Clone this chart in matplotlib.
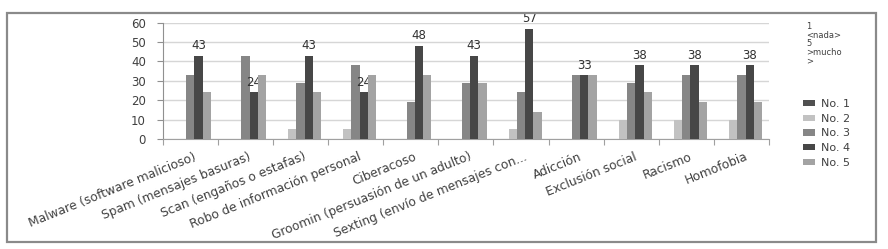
import numpy as np
import matplotlib
matplotlib.use("Agg")
import matplotlib.pyplot as plt
import matplotlib.transforms as mtrans
from matplotlib.patches import Rectangle, Patch

categories = ["Malware (software malicioso)", "Spam (mensajes basuras)",
              "Scan (engaños o estafas)", "Robo de información personal",
              "Ciberacoso", "Groomin (persuasión de un adulto)",
              "Sexting (envío de mensajes con...", "Adicción",
              "Exclusión social", "Racismo", "Homofobia"]
no1 = [0, 0, 0, 0, 0, 0, 0, 0, 0, 0, 0]
no2 = [0, 0, 5, 5, 0, 0, 5, 0, 10, 10, 10]
no3 = [33, 43, 29, 38, 19, 29, 24, 33, 29, 33, 33]
no4 = [43, 24, 43, 24, 48, 43, 57, 33, 38, 38, 38]
no5 = [24, 33, 24, 33, 33, 29, 14, 33, 24, 19, 19]
series_names = ["No. 1", "No. 2", "No. 3", "No. 4", "No. 5"]
legend_title = "1\n<nada>\n5\n>mucho\n>"

series = [no1, no2, no3, no4, no5]
colors = ["#505050", "#c2c2c2", "#868686", "#474747", "#a3a3a3"]

W, H = 888, 249
fig = plt.figure(figsize=(W / 100, H / 100), dpi=100)
fig.patch.set_facecolor("white")

# outer frame
fig.patches.append(Rectangle((7 / W, 1 - 242 / H), 869 / W, 229 / H,
                             transform=fig.transFigure, fill=False,
                             edgecolor="#8a8a8a", linewidth=1.6))

ax = fig.add_axes([162.7 / W, 1 - 139 / H, (769 - 162.7) / W, (139 - 22.7) / H])

x = np.arange(len(categories))
bw = 0.15
for i, vals in enumerate(series):
    pos = x + (i - 2) * bw
    ax.bar(pos, vals, width=bw, color=colors[i], zorder=3)
    if i == 3:
        for p, v in zip(pos, vals):
            ax.annotate(str(v), (p, v), xytext=(0, 2.5), textcoords="offset points",
                        ha="center", va="bottom", fontsize=8.5, color="#303030")

ax.set_ylim(0, 60)
ax.set_xlim(-0.5, len(categories) - 0.5)
ax.set_yticks(range(0, 61, 10))
ax.yaxis.grid(True, color="#d6d6d6", linewidth=1, zorder=0)
ax.tick_params(axis="y", labelsize=8.5, labelcolor="#404040", color="#909090",
               length=4, width=0.8, pad=8)

ax.set_xticks(np.arange(-0.5, len(categories), 1.0))
ax.set_xticklabels([])
ax.tick_params(axis="x", which="major", length=4, color="#a0a0a0", width=0.8)
ax.set_xticks(x, minor=True)
ax.set_xticklabels(categories, minor=True, rotation=22, ha="right",
                   rotation_mode="anchor", fontsize=8.8, color="#404040")
ax.tick_params(axis="x", which="minor", length=0, pad=8)
shift = mtrans.ScaledTranslation(3 / 100, 0, fig.dpi_scale_trans)
for lab in ax.get_xticklabels(minor=True):
    lab.set_transform(lab.get_transform() + shift)

for s in ["top", "right"]:
    ax.spines[s].set_visible(False)
ax.spines["left"].set_color("#909090")
ax.spines["bottom"].set_color("#a0a0a0")

fig.text(806 / W, 1 - 22 / H, legend_title, fontsize=6, color="#404040",
         va="top", ha="left", linespacing=0.95)

handles = [Patch(facecolor=c, edgecolor="none") for c in colors]
fig.legend(handles, series_names, loc="upper left",
           bbox_to_anchor=(793 / W, 1 - 89 / H), frameon=False, fontsize=8,
           handlelength=1.1, handleheight=0.5, handletextpad=0.5,
           labelspacing=0.42, labelcolor="#404040")

fig.savefig("out.png", dpi=100)
